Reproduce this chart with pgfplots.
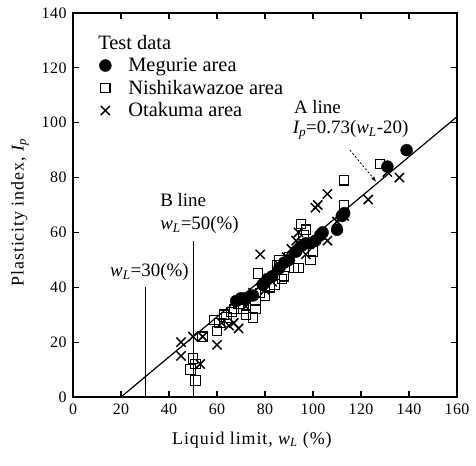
\documentclass[border=0pt]{standalone}
\usepackage{pgfplots}
\pgfplotsset{compat=1.18}
\usepackage{fontspec}
\setmainfont{Liberation Serif}
\newfontfamily\lsf[LetterSpace=5]{Liberation Serif}
\newfontfamily\tsf[LetterSpace=3]{Liberation Serif}
\begin{document}
\begin{tikzpicture}
\path[use as bounding box] (-73bp,-69bp) rectangle (403bp,397bp);
\begin{axis}[
  scale only axis, width=384bp, height=384bp,
  xmin=0, xmax=160, ymin=0, ymax=140,
  xtick={0,20,...,160}, ytick={0,20,...,140},
  tick align=inside, major tick length=6bp,
  tick style={line width=1.2pt, black},
  axis line style={line width=1.5pt},
  /pgf/number format/assume math mode=true,
  ticklabel style={font=\tsf\fontsize{16}{18}\selectfont},
  xticklabel style={yshift=-3bp},
  yticklabel style={xshift=-3bp},
  xlabel={Liquid limit, \textit{w\textsubscript{L}} (\%)},
  ylabel={Plasticity index, \textit{I\textsubscript{p}}},
  label style={font=\lsf\fontsize{18}{20}\selectfont},
  xlabel style={at={(axis description cs:0.466,-0.112)}, anchor=center},
  ylabel style={at={(axis description cs:-0.138,0.48)}, anchor=center},
  legend style={draw=none, fill=none, at={(axis description cs:0.059,0.95)}, anchor=north west,
    font=\fontsize{20.5}{22}\selectfont, row sep=3bp, inner sep=1bp},
  legend cell align=left,
  clip=false,
]
\addlegendimage{empty legend}
\addlegendentry{\makebox[0pt][l]{\hspace{-15bp}Test data}}
\addplot[only marks, mark=*, mark size=6pt, black] coordinates {
(68,35)(70,36)(72,36)(75,37)(79,41)(81,43)(83,44)(86,47)(88,49)(90,50)(93,53)(95,55)(97,56)(99,56)(101,57)(103,59)(104,60)(110,61)(112,66)(113,67)(131,84)(139,90)
};
\addlegendentry{\hspace{15bp}Megurie area}
\addplot[only marks, mark=square, mark size=4.7pt, black, line width=1.1pt, fill=white, mark options={fill=white}] coordinates {
(49,10)(50,14)(51,6)(51,12)(54,22)(59,28)(60,24)(61,27)(63,30)(64,29)(66,31)(67,32)(69,34)(71,32)(72,30)(75,29)(76,32)(76,35)(77,45)(78,38)(80,37)(82,40)(84,41)(85,48)(86,50)(87,43)(88,44)(90,51)(92,47)(94,47)(95,63)(96,59)(97,61)(99,50)(100,53)(113,70)(113,79)(128,85)
};
\addlegendentry{\hspace{15bp}Nishikawazoe area}
\addplot[only marks, mark=x, mark size=6.5pt, black, line width=1.5pt] coordinates {
(45,20)(45,15)(50,22)(53,12)(54,22)(60,19)(62,27)(65,26)(67,27)(69,25)(72,33)(75,38)(78,52)(80,39)(83,42)(86,48)(89,51)(91,54)(93,57)(94,60)(97,52)(101,69)(102,70)(106,74)(106,57)(110,64)(113,66)(123,72)(131,82)(136,80)
};
\addlegendentry{\hspace{15bp}Otakuma area}
% A line
\addplot[black, line width=1.2pt, forget plot] coordinates {(20,0) (160,102.2)};
% B line
\addplot[black, line width=1pt, forget plot] coordinates {(50,0) (50,57)};
% wL = 30
\addplot[black, line width=1pt, forget plot] coordinates {(30,0) (30,40)};
% arrow
\addplot[black, line width=0.8pt, dash pattern=on 2pt off 2pt, -latex, forget plot] coordinates {(115.4,90) (126.3,78.5)};
\tikzset{ann/.style={font=\fontsize{19}{21}\selectfont, anchor=west, inner sep=0pt}}
\node[ann] at (axis cs:92,105.7) {A line};
\node[ann] at (axis cs:91.5,97.3) {\textit{I\textsubscript{p}}=0.73(\textit{w\textsubscript{L}}-20)};
\node[ann] at (axis cs:36.3,71.8) {B line};
\node[ann] at (axis cs:36.3,62.7) {\textit{w\textsubscript{L}}=50(\%)};
\node[ann] at (axis cs:15.4,45.6) {\textit{w\textsubscript{L}}=30(\%)};
\end{axis}
\end{tikzpicture}
\end{document}
